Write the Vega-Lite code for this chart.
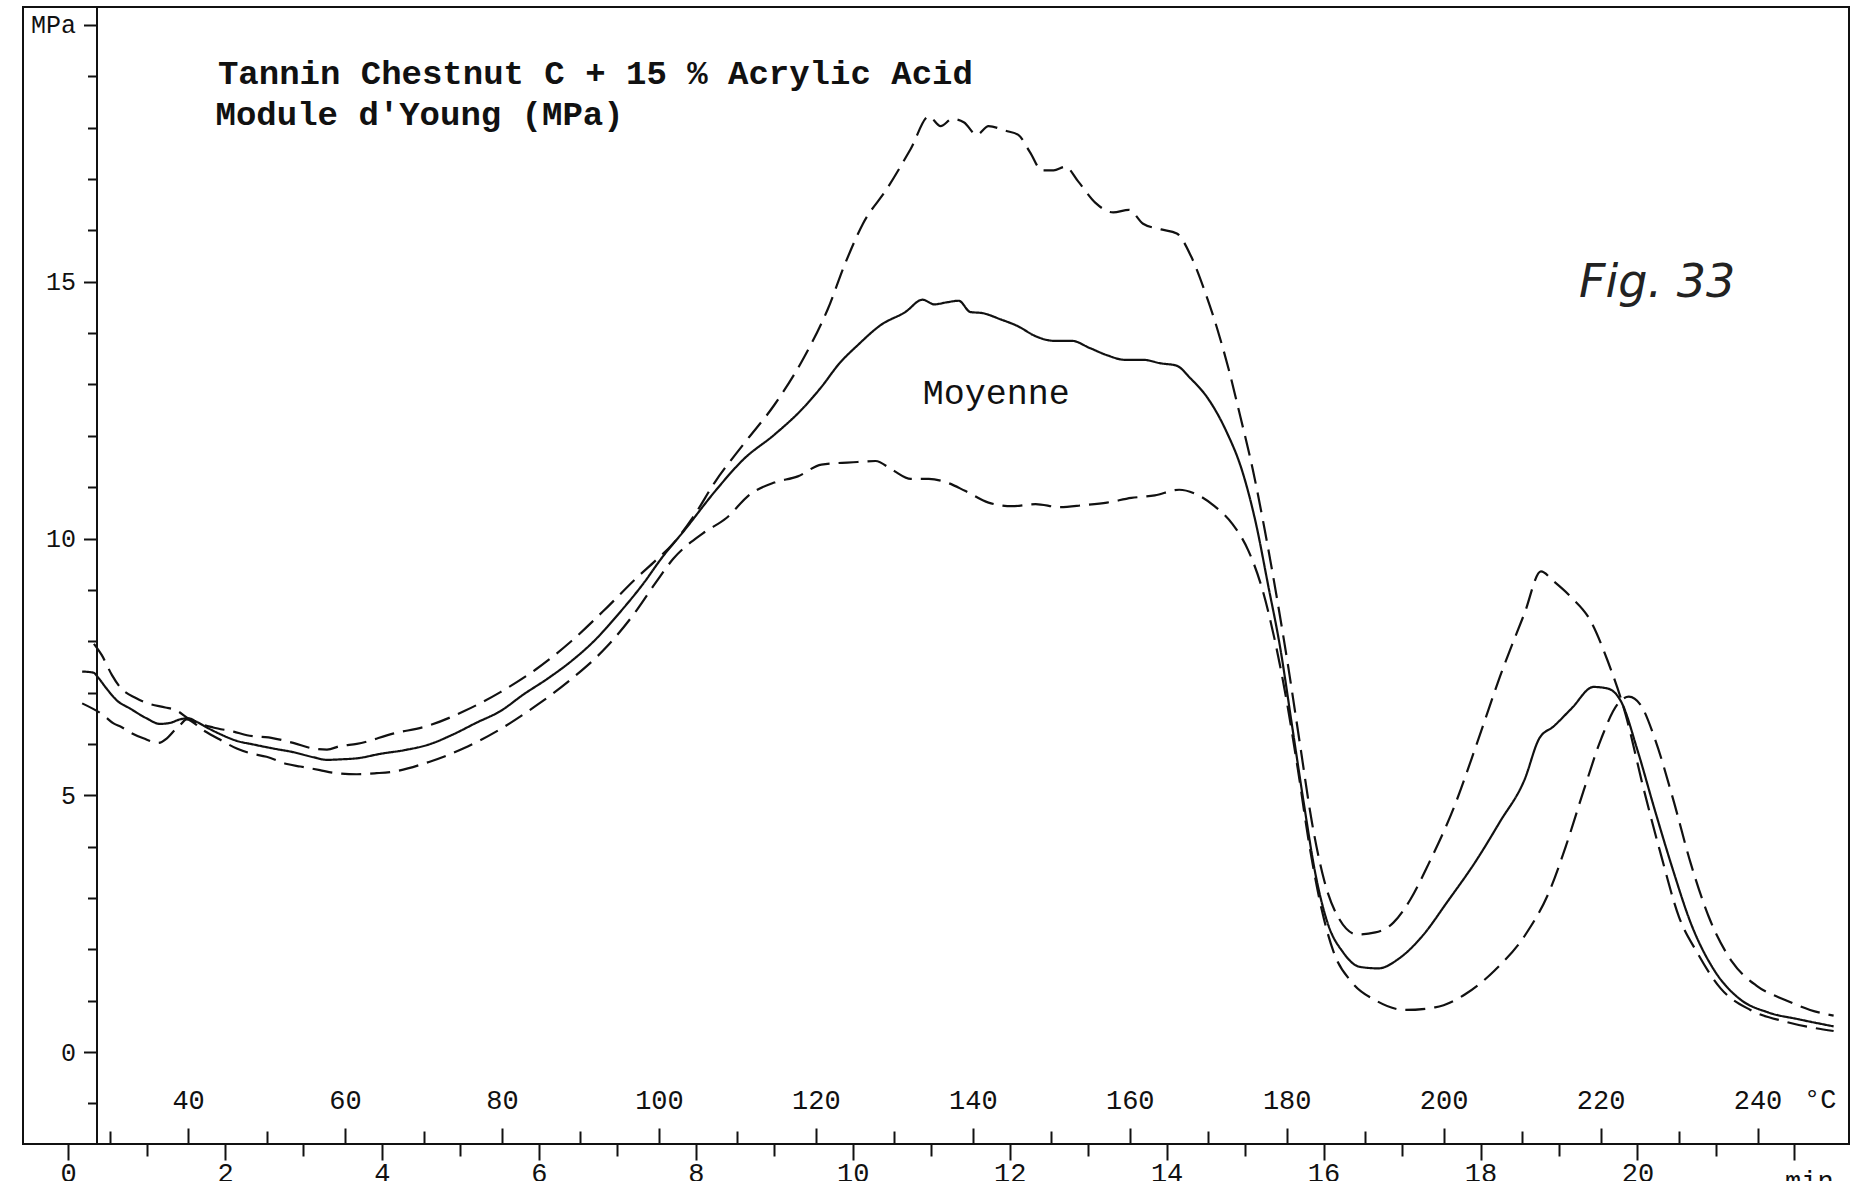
{
  "$schema": "https://vega.github.io/schema/vega-lite/v6.json",
  "width": 1826,
  "height": 1137,
  "autosize": "none",
  "padding": {"left": 23, "top": 7, "right": 18, "bottom": 37},
  "background": "white",
  "config": {
    "view": {"stroke": "#111", "strokeWidth": 2},
    "font": "Liberation Mono",
    "axis": {"grid": false, "domainColor": "#111", "domainWidth": 2, "tickColor": "#111", "tickWidth": 2, "labelColor": "#111", "labelFont": "Liberation Mono"}
  },
  "datasets": {
    "curves": [
      {"s": "max", "T": 28.0, "v": 7.95}, {"s": "max", "T": 29.0, "v": 7.73}, {"s": "max", "T": 30.3, "v": 7.34}, {"s": "max", "T": 31.3, "v": 7.11},
      {"s": "max", "T": 33.4, "v": 6.89}, {"s": "max", "T": 34.7, "v": 6.80}, {"s": "max", "T": 37.1, "v": 6.71}, {"s": "max", "T": 38.4, "v": 6.66},
      {"s": "max", "T": 40.2, "v": 6.48}, {"s": "max", "T": 43.2, "v": 6.32}, {"s": "max", "T": 45.8, "v": 6.24}, {"s": "max", "T": 47.5, "v": 6.17},
      {"s": "max", "T": 50.9, "v": 6.11}, {"s": "max", "T": 53.4, "v": 6.02}, {"s": "max", "T": 56.0, "v": 5.91}, {"s": "max", "T": 57.7, "v": 5.89},
      {"s": "max", "T": 59.4, "v": 5.96}, {"s": "max", "T": 61.5, "v": 6.0}, {"s": "max", "T": 66.1, "v": 6.20}, {"s": "max", "T": 70.7, "v": 6.36},
      {"s": "max", "T": 75.2, "v": 6.64}, {"s": "max", "T": 79.8, "v": 7.01}, {"s": "max", "T": 84.3, "v": 7.45}, {"s": "max", "T": 88.9, "v": 8.01},
      {"s": "max", "T": 93.4, "v": 8.66}, {"s": "max", "T": 97.2, "v": 9.24}, {"s": "max", "T": 99.5, "v": 9.56}, {"s": "max", "T": 101.8, "v": 9.90},
      {"s": "max", "T": 104.5, "v": 10.45}, {"s": "max", "T": 107.1, "v": 11.09}, {"s": "max", "T": 110.9, "v": 11.86}, {"s": "max", "T": 114.7, "v": 12.60},
      {"s": "max", "T": 118.5, "v": 13.53}, {"s": "max", "T": 121.5, "v": 14.46}, {"s": "max", "T": 123.8, "v": 15.38}, {"s": "max", "T": 126.0, "v": 16.13},
      {"s": "max", "T": 129.1, "v": 16.82}, {"s": "max", "T": 132.1, "v": 17.59}, {"s": "max", "T": 134.4, "v": 18.22}, {"s": "max", "T": 135.9, "v": 18.03},
      {"s": "max", "T": 137.4, "v": 18.17}, {"s": "max", "T": 138.9, "v": 18.10}, {"s": "max", "T": 140.5, "v": 17.86}, {"s": "max", "T": 142.0, "v": 18.03},
      {"s": "max", "T": 144.2, "v": 17.94}, {"s": "max", "T": 145.8, "v": 17.86}, {"s": "max", "T": 147.3, "v": 17.52}, {"s": "max", "T": 148.8, "v": 17.17},
      {"s": "max", "T": 150.3, "v": 17.17}, {"s": "max", "T": 151.8, "v": 17.24}, {"s": "max", "T": 153.4, "v": 16.96}, {"s": "max", "T": 155.6, "v": 16.54},
      {"s": "max", "T": 157.9, "v": 16.35}, {"s": "max", "T": 159.9, "v": 16.40}, {"s": "max", "T": 161.7, "v": 16.13}, {"s": "max", "T": 164.0, "v": 16.02},
      {"s": "max", "T": 166.0, "v": 15.94}, {"s": "max", "T": 167.8, "v": 15.50}, {"s": "max", "T": 169.6, "v": 14.80}, {"s": "max", "T": 171.1, "v": 14.11},
      {"s": "max", "T": 172.6, "v": 13.30}, {"s": "max", "T": 174.1, "v": 12.37}, {"s": "max", "T": 175.7, "v": 11.33}, {"s": "max", "T": 177.2, "v": 10.17},
      {"s": "max", "T": 178.7, "v": 8.89}, {"s": "max", "T": 180.2, "v": 7.50}, {"s": "max", "T": 181.7, "v": 5.99}, {"s": "max", "T": 183.2, "v": 4.49},
      {"s": "max", "T": 184.8, "v": 3.33}, {"s": "max", "T": 186.7, "v": 2.59}, {"s": "max", "T": 189.0, "v": 2.29}, {"s": "max", "T": 191.3, "v": 2.33},
      {"s": "max", "T": 193.6, "v": 2.52}, {"s": "max", "T": 195.8, "v": 2.98}, {"s": "max", "T": 198.1, "v": 3.67}, {"s": "max", "T": 201.2, "v": 4.72},
      {"s": "max", "T": 204.2, "v": 5.99}, {"s": "max", "T": 207.2, "v": 7.32}, {"s": "max", "T": 210.3, "v": 8.54}, {"s": "max", "T": 212.4, "v": 9.36},
      {"s": "max", "T": 214.0, "v": 9.17}, {"s": "max", "T": 216.3, "v": 8.85}, {"s": "max", "T": 218.6, "v": 8.43}, {"s": "max", "T": 220.9, "v": 7.62},
      {"s": "max", "T": 223.2, "v": 6.57}, {"s": "max", "T": 225.4, "v": 5.18}, {"s": "max", "T": 227.7, "v": 3.84}, {"s": "max", "T": 230.0, "v": 2.63},
      {"s": "max", "T": 232.3, "v": 1.94}, {"s": "max", "T": 235.3, "v": 1.24}, {"s": "max", "T": 239.1, "v": 0.82}, {"s": "max", "T": 243.6, "v": 0.59},
      {"s": "max", "T": 249.7, "v": 0.41},

      {"s": "moy", "T": 26.5, "v": 7.41}, {"s": "moy", "T": 27.9, "v": 7.39}, {"s": "moy", "T": 28.6, "v": 7.28}, {"s": "moy", "T": 29.6, "v": 7.08},
      {"s": "moy", "T": 30.9, "v": 6.85}, {"s": "moy", "T": 32.6, "v": 6.69}, {"s": "moy", "T": 34.7, "v": 6.50}, {"s": "moy", "T": 36.4, "v": 6.39},
      {"s": "moy", "T": 37.7, "v": 6.41}, {"s": "moy", "T": 39.0, "v": 6.48}, {"s": "moy", "T": 40.0, "v": 6.50}, {"s": "moy", "T": 41.1, "v": 6.43},
      {"s": "moy", "T": 42.4, "v": 6.32}, {"s": "moy", "T": 44.1, "v": 6.19}, {"s": "moy", "T": 46.2, "v": 6.06}, {"s": "moy", "T": 48.3, "v": 5.99},
      {"s": "moy", "T": 50.9, "v": 5.91}, {"s": "moy", "T": 53.4, "v": 5.84}, {"s": "moy", "T": 56.0, "v": 5.74}, {"s": "moy", "T": 57.7, "v": 5.69},
      {"s": "moy", "T": 59.4, "v": 5.70}, {"s": "moy", "T": 61.5, "v": 5.72}, {"s": "moy", "T": 64.6, "v": 5.81}, {"s": "moy", "T": 67.6, "v": 5.88},
      {"s": "moy", "T": 70.7, "v": 5.99}, {"s": "moy", "T": 73.7, "v": 6.18}, {"s": "moy", "T": 76.7, "v": 6.41}, {"s": "moy", "T": 79.8, "v": 6.64},
      {"s": "moy", "T": 82.8, "v": 6.97}, {"s": "moy", "T": 85.8, "v": 7.27}, {"s": "moy", "T": 88.9, "v": 7.62}, {"s": "moy", "T": 91.9, "v": 8.03},
      {"s": "moy", "T": 94.9, "v": 8.54}, {"s": "moy", "T": 98.0, "v": 9.12}, {"s": "moy", "T": 100.4, "v": 9.63}, {"s": "moy", "T": 103.3, "v": 10.17},
      {"s": "moy", "T": 107.1, "v": 10.91}, {"s": "moy", "T": 110.9, "v": 11.56}, {"s": "moy", "T": 114.7, "v": 12.02}, {"s": "moy", "T": 118.5, "v": 12.56},
      {"s": "moy", "T": 120.7, "v": 12.95}, {"s": "moy", "T": 123.0, "v": 13.41}, {"s": "moy", "T": 125.3, "v": 13.76}, {"s": "moy", "T": 128.3, "v": 14.16},
      {"s": "moy", "T": 131.4, "v": 14.41}, {"s": "moy", "T": 133.6, "v": 14.65}, {"s": "moy", "T": 135.1, "v": 14.56}, {"s": "moy", "T": 136.7, "v": 14.60},
      {"s": "moy", "T": 138.2, "v": 14.63}, {"s": "moy", "T": 139.7, "v": 14.41}, {"s": "moy", "T": 141.2, "v": 14.39}, {"s": "moy", "T": 143.5, "v": 14.27},
      {"s": "moy", "T": 145.8, "v": 14.13}, {"s": "moy", "T": 148.0, "v": 13.94}, {"s": "moy", "T": 150.3, "v": 13.85}, {"s": "moy", "T": 152.6, "v": 13.85},
      {"s": "moy", "T": 154.9, "v": 13.71}, {"s": "moy", "T": 157.1, "v": 13.57}, {"s": "moy", "T": 159.4, "v": 13.48}, {"s": "moy", "T": 161.7, "v": 13.48},
      {"s": "moy", "T": 164.0, "v": 13.41}, {"s": "moy", "T": 165.9, "v": 13.37}, {"s": "moy", "T": 167.8, "v": 13.11}, {"s": "moy", "T": 170.0, "v": 12.72},
      {"s": "moy", "T": 172.3, "v": 12.09}, {"s": "moy", "T": 174.3, "v": 11.33}, {"s": "moy", "T": 176.1, "v": 10.28}, {"s": "moy", "T": 177.6, "v": 9.12},
      {"s": "moy", "T": 179.2, "v": 7.85}, {"s": "moy", "T": 180.7, "v": 6.34}, {"s": "moy", "T": 182.2, "v": 4.83}, {"s": "moy", "T": 183.7, "v": 3.44},
      {"s": "moy", "T": 185.2, "v": 2.52}, {"s": "moy", "T": 187.2, "v": 1.94}, {"s": "moy", "T": 189.3, "v": 1.66}, {"s": "moy", "T": 191.7, "v": 1.63},
      {"s": "moy", "T": 194.3, "v": 1.82}, {"s": "moy", "T": 197.4, "v": 2.28}, {"s": "moy", "T": 200.4, "v": 2.91}, {"s": "moy", "T": 204.2, "v": 3.74},
      {"s": "moy", "T": 207.2, "v": 4.49}, {"s": "moy", "T": 210.3, "v": 5.30}, {"s": "moy", "T": 212.2, "v": 6.11}, {"s": "moy", "T": 214.0, "v": 6.34},
      {"s": "moy", "T": 216.3, "v": 6.69}, {"s": "moy", "T": 219.1, "v": 7.11}, {"s": "moy", "T": 220.9, "v": 7.08}, {"s": "moy", "T": 222.7, "v": 6.80},
      {"s": "moy", "T": 224.7, "v": 5.88}, {"s": "moy", "T": 226.9, "v": 4.72}, {"s": "moy", "T": 229.2, "v": 3.56}, {"s": "moy", "T": 231.5, "v": 2.51},
      {"s": "moy", "T": 234.5, "v": 1.59}, {"s": "moy", "T": 237.6, "v": 1.05}, {"s": "moy", "T": 241.4, "v": 0.77}, {"s": "moy", "T": 245.2, "v": 0.64},
      {"s": "moy", "T": 249.7, "v": 0.50},

      {"s": "min", "T": 26.5, "v": 6.79}, {"s": "min", "T": 29.2, "v": 6.56}, {"s": "min", "T": 30.5, "v": 6.40}, {"s": "min", "T": 31.5, "v": 6.33},
      {"s": "min", "T": 32.8, "v": 6.21}, {"s": "min", "T": 34.3, "v": 6.11}, {"s": "min", "T": 36.2, "v": 6.02}, {"s": "min", "T": 37.3, "v": 6.11},
      {"s": "min", "T": 38.3, "v": 6.27}, {"s": "min", "T": 39.0, "v": 6.37}, {"s": "min", "T": 39.8, "v": 6.48}, {"s": "min", "T": 41.9, "v": 6.27},
      {"s": "min", "T": 44.1, "v": 6.08}, {"s": "min", "T": 46.2, "v": 5.91}, {"s": "min", "T": 47.9, "v": 5.82}, {"s": "min", "T": 50.0, "v": 5.75},
      {"s": "min", "T": 52.6, "v": 5.61}, {"s": "min", "T": 54.3, "v": 5.56}, {"s": "min", "T": 56.8, "v": 5.49}, {"s": "min", "T": 58.5, "v": 5.44},
      {"s": "min", "T": 61.5, "v": 5.41}, {"s": "min", "T": 64.0, "v": 5.43}, {"s": "min", "T": 66.1, "v": 5.46}, {"s": "min", "T": 70.7, "v": 5.65},
      {"s": "min", "T": 75.2, "v": 5.92}, {"s": "min", "T": 79.8, "v": 6.29}, {"s": "min", "T": 84.3, "v": 6.74}, {"s": "min", "T": 88.9, "v": 7.27},
      {"s": "min", "T": 93.4, "v": 7.90}, {"s": "min", "T": 97.2, "v": 8.61}, {"s": "min", "T": 99.5, "v": 9.12}, {"s": "min", "T": 101.8, "v": 9.60},
      {"s": "min", "T": 105.6, "v": 10.10}, {"s": "min", "T": 108.6, "v": 10.40}, {"s": "min", "T": 111.6, "v": 10.86}, {"s": "min", "T": 114.7, "v": 11.09},
      {"s": "min", "T": 117.7, "v": 11.21}, {"s": "min", "T": 120.7, "v": 11.44}, {"s": "min", "T": 125.3, "v": 11.49}, {"s": "min", "T": 127.6, "v": 11.51},
      {"s": "min", "T": 129.8, "v": 11.33}, {"s": "min", "T": 132.1, "v": 11.16}, {"s": "min", "T": 134.4, "v": 11.16}, {"s": "min", "T": 136.7, "v": 11.09},
      {"s": "min", "T": 139.0, "v": 10.93}, {"s": "min", "T": 142.0, "v": 10.70}, {"s": "min", "T": 145.0, "v": 10.63}, {"s": "min", "T": 148.0, "v": 10.67},
      {"s": "min", "T": 151.1, "v": 10.61}, {"s": "min", "T": 154.1, "v": 10.65}, {"s": "min", "T": 157.1, "v": 10.70}, {"s": "min", "T": 160.2, "v": 10.79},
      {"s": "min", "T": 163.2, "v": 10.84}, {"s": "min", "T": 166.3, "v": 10.95}, {"s": "min", "T": 168.5, "v": 10.86}, {"s": "min", "T": 170.8, "v": 10.63},
      {"s": "min", "T": 173.1, "v": 10.28}, {"s": "min", "T": 175.1, "v": 9.77}, {"s": "min", "T": 176.9, "v": 9.01}, {"s": "min", "T": 178.4, "v": 8.08},
      {"s": "min", "T": 179.9, "v": 6.92}, {"s": "min", "T": 181.4, "v": 5.53}, {"s": "min", "T": 182.9, "v": 4.02}, {"s": "min", "T": 184.5, "v": 2.75},
      {"s": "min", "T": 186.0, "v": 1.94}, {"s": "min", "T": 188.3, "v": 1.36}, {"s": "min", "T": 191.3, "v": 1.01}, {"s": "min", "T": 195.1, "v": 0.82},
      {"s": "min", "T": 198.9, "v": 0.87}, {"s": "min", "T": 202.7, "v": 1.12}, {"s": "min", "T": 206.5, "v": 1.59}, {"s": "min", "T": 210.4, "v": 2.28},
      {"s": "min", "T": 213.5, "v": 3.14}, {"s": "min", "T": 215.6, "v": 4.02}, {"s": "min", "T": 217.8, "v": 5.07}, {"s": "min", "T": 220.1, "v": 6.11},
      {"s": "min", "T": 222.1, "v": 6.76}, {"s": "min", "T": 223.6, "v": 6.92}, {"s": "min", "T": 225.1, "v": 6.76}, {"s": "min", "T": 226.9, "v": 6.11},
      {"s": "min", "T": 229.2, "v": 4.95}, {"s": "min", "T": 231.5, "v": 3.67}, {"s": "min", "T": 233.8, "v": 2.63}, {"s": "min", "T": 236.8, "v": 1.75},
      {"s": "min", "T": 239.9, "v": 1.29}, {"s": "min", "T": 243.6, "v": 1.01}, {"s": "min", "T": 246.7, "v": 0.82}, {"s": "min", "T": 249.7, "v": 0.71}
    ],
    "titles": [
      {"text": "Tannin Chestnut C + 15 % Acrylic Acid", "T": 43.8, "v": 19.05},
      {"text": "Module d'Young (MPa)", "T": 43.5, "v": 18.24}
    ],
    "notes": [
      {"text": "Moyenne", "T": 143.0, "v": 12.83}
    ],
    "fig": [
      {"text": "Fig. 33", "T": 227.2, "v": 14.97}
    ],
    "unitC": [
      {"text": "°C", "T": 248.0, "v": -0.93}
    ],
    "unitMin": [
      {"text": "min", "T": 246.6, "v": -2.28}
    ],
    "anchor": [{"T": 40, "v": 0}]
  },
  "layer": [
    {
      "data": {"name": "curves"},
      "mark": {"type": "line", "interpolate": "monotone", "strokeWidth": 2.2, "color": "#111"},
      "encoding": {
        "x": {"field": "T", "type": "quantitative", "scale": {"domain": [18.96, 251.66], "nice": false, "zero": false},
              "axis": {"orient": "top", "offset": -1137, "values": [40, 60, 80, 100, 120, 140, 160, 180, 200, 220, 240], "tickSize": 16, "domain": false, "labelFontSize": 27, "labelPadding": 14, "title": null}},
        "y": {"field": "v", "type": "quantitative", "scale": {"domain": [-1.79, 20.35], "nice": false, "zero": false},
              "axis": {"orient": "left", "offset": -73.5, "values": [0, 5, 10, 15, 20], "tickSize": 13, "labelFontSize": 25, "labelPadding": 8, "labelExpr": "datum.value == 20 ? 'MPa' : datum.label", "title": null}},
        "detail": {"field": "s"},
        "strokeDash": {"field": "s", "type": "nominal", "scale": {"domain": ["max", "moy", "min"], "range": [[20, 9], [1, 0], [20, 9]]}, "legend": null}
      }
    },
    {
      "data": {"name": "anchor"},
      "mark": {"type": "point", "opacity": 0},
      "encoding": {
        "x": {"field": "T", "type": "quantitative", "scale": {"domain": [18.96, 251.66], "nice": false, "zero": false},
              "axis": {"orient": "top", "offset": -1137, "values": [30, 50, 70, 90, 110, 130, 150, 170, 190, 210, 230], "tickSize": 13, "domain": false, "labels": false, "title": null}}
      }
    },
    {
      "data": {"name": "anchor"},
      "mark": {"type": "point", "opacity": 0},
      "encoding": {
        "x": {"field": "T", "type": "quantitative", "scale": {"domain": [18.96, 251.66], "nice": false, "zero": false},
              "axis": {"orient": "bottom", "values": [24.7, 44.7, 64.7, 84.7, 104.7, 124.7, 144.7, 164.7, 184.7, 204.7, 224.7, 244.7], "tickSize": 16, "domain": false, "labelFontSize": 27, "labelPadding": 0, "labelExpr": "datum.value > 240 ? '' : format((datum.value - 24.7) / 10, '.0f')", "title": null}}
      }
    },
    {
      "data": {"name": "anchor"},
      "mark": {"type": "point", "opacity": 0},
      "encoding": {
        "x": {"field": "T", "type": "quantitative", "scale": {"domain": [18.96, 251.66], "nice": false, "zero": false},
              "axis": {"orient": "bottom", "values": [34.7, 54.7, 74.7, 94.7, 114.7, 134.7, 154.7, 174.7, 194.7, 214.7, 234.7], "tickSize": 12, "domain": false, "labels": false, "title": null}}
      }
    },
    {
      "data": {"name": "anchor"},
      "mark": {"type": "point", "opacity": 0},
      "encoding": {
        "y": {"field": "v", "type": "quantitative", "scale": {"domain": [-1.79, 20.35], "nice": false, "zero": false},
              "axis": {"orient": "left", "offset": -73.5, "values": [-1, 1, 2, 3, 4, 6, 7, 8, 9, 11, 12, 13, 14, 16, 17, 18, 19], "tickSize": 9, "domain": false, "labels": false, "title": null}}
      }
    },
    {
      "data": {"name": "titles"},
      "mark": {"type": "text", "align": "left", "baseline": "middle", "font": "Liberation Mono", "fontSize": 34, "fontWeight": "bold", "color": "#111"},
      "encoding": {
        "x": {"field": "T", "type": "quantitative", "scale": {"domain": [18.96, 251.66], "nice": false, "zero": false}, "axis": null},
        "y": {"field": "v", "type": "quantitative", "scale": {"domain": [-1.79, 20.35], "nice": false, "zero": false}, "axis": null},
        "text": {"field": "text"}
      }
    },
    {
      "data": {"name": "notes"},
      "mark": {"type": "text", "align": "center", "baseline": "middle", "font": "Liberation Mono", "fontSize": 35, "color": "#111"},
      "encoding": {
        "x": {"field": "T", "type": "quantitative", "scale": {"domain": [18.96, 251.66], "nice": false, "zero": false}, "axis": null},
        "y": {"field": "v", "type": "quantitative", "scale": {"domain": [-1.79, 20.35], "nice": false, "zero": false}, "axis": null},
        "text": {"field": "text"}
      }
    },
    {
      "data": {"name": "fig"},
      "mark": {"type": "text", "align": "center", "baseline": "middle", "font": "DejaVu Sans", "fontStyle": "italic", "fontSize": 46, "color": "#222"},
      "encoding": {
        "x": {"field": "T", "type": "quantitative", "scale": {"domain": [18.96, 251.66], "nice": false, "zero": false}, "axis": null},
        "y": {"field": "v", "type": "quantitative", "scale": {"domain": [-1.79, 20.35], "nice": false, "zero": false}, "axis": null},
        "text": {"field": "text"}
      }
    },
    {
      "data": {"name": "unitC"},
      "mark": {"type": "text", "align": "center", "baseline": "middle", "font": "Liberation Mono", "fontSize": 27, "color": "#111"},
      "encoding": {
        "x": {"field": "T", "type": "quantitative", "scale": {"domain": [18.96, 251.66], "nice": false, "zero": false}, "axis": null},
        "y": {"field": "v", "type": "quantitative", "scale": {"domain": [-1.79, 20.35], "nice": false, "zero": false}, "axis": null},
        "text": {"field": "text"}
      }
    },
    {
      "data": {"name": "unitMin"},
      "mark": {"type": "text", "align": "center", "baseline": "top", "font": "Liberation Mono", "fontSize": 27, "color": "#111"},
      "encoding": {
        "x": {"field": "T", "type": "quantitative", "scale": {"domain": [18.96, 251.66], "nice": false, "zero": false}, "axis": null},
        "y": {"field": "v", "type": "quantitative", "scale": {"domain": [-1.79, 20.35], "nice": false, "zero": false}, "axis": null},
        "text": {"field": "text"}
      }
    }
  ],
  "resolve": {"axis": {"x": "independent", "y": "independent"}}
}
